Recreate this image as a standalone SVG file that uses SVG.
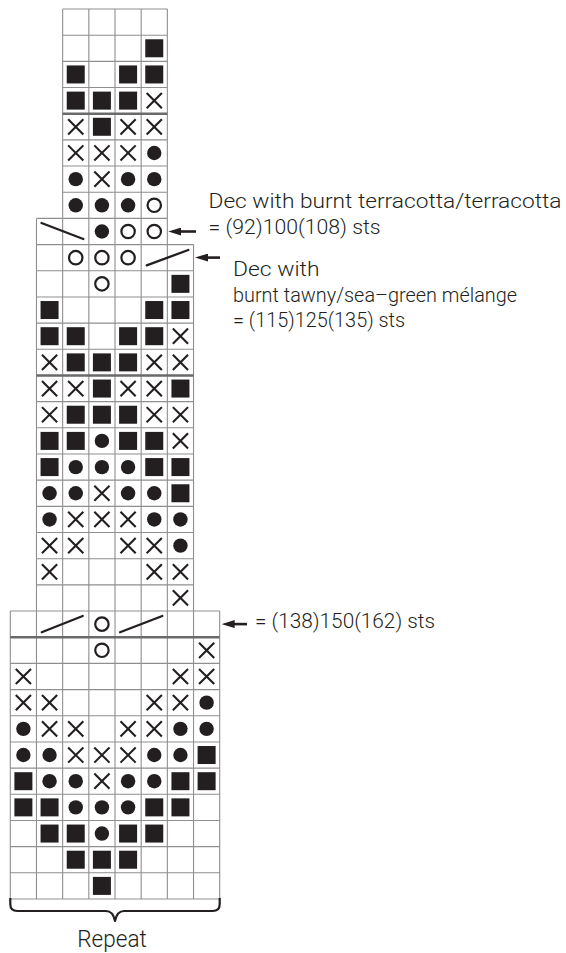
<svg xmlns="http://www.w3.org/2000/svg" width="566" height="953" viewBox="0 0 566 953">
<style>
  .grid{fill:none;stroke:#8f8f8f;stroke-width:1.1}
  .thick{fill:none;stroke:#6a6a6a;stroke-width:2.6}
  .dec{fill:none;stroke:#231f20;stroke-width:2.3;stroke-linecap:round}
  .arrow{fill:none;stroke:#231f20;stroke-width:2.6}
  .lbl{font-family:Roboto,"Liberation Sans",sans-serif;font-weight:300;font-size:21px;fill:#231f20}
  .rep{font-size:23px}
  .brace{fill:none;stroke:#231f20;stroke-width:2.2;stroke-linejoin:round}
</style>
<defs>
  <rect id="sq" x="-9" y="-9" width="18" height="18" fill="#231f20"/>
  <circle id="dot" r="7.2" fill="#231f20"/>
  <circle id="ring" r="6.7" fill="none" stroke="#231f20" stroke-width="2.2"/>
  <path id="x" d="M-7.6,-7.6L7.6,7.6M7.6,-7.6L-7.6,7.6" fill="none" stroke="#231f20" stroke-width="2.1"/>
  <marker id="head" viewBox="0 0 13 8" refX="5" refY="4" markerWidth="13" markerHeight="8" markerUnits="userSpaceOnUse" orient="auto">
    <path d="M0,0L13,4L0,8z" fill="#231f20"/>
  </marker>
</defs>

<g id="chart-grid">
  <path class="grid" d="
    M62.65,9H167.35 M62.65,35.18H167.35 M62.65,61.35H167.35 M62.65,87.53H167.35 M62.65,139.88H167.35 M62.65,166.06H167.35 M62.65,192.23H167.35
    M36.48,218.41H167.35
    M36.48,244.58H193.53 M36.48,270.76H193.53 M36.48,296.94H193.53 M36.48,323.11H193.53 M36.48,349.29H193.53 M36.48,401.64H193.53 M36.48,427.82H193.53 M36.48,453.99H193.53 M36.48,480.17H193.53 M36.48,506.34H193.53 M36.48,532.52H193.53 M36.48,558.70H193.53 M36.48,584.87H193.53
    M10.3,611.05H219.7 M10.3,663.40H219.7 M10.3,689.58H219.7 M10.3,715.75H219.7 M10.3,741.93H219.7 M10.3,768.10H219.7 M10.3,794.28H219.7 M10.3,820.46H219.7 M10.3,846.63H219.7 M10.3,872.81H219.7 M10.3,898.98H219.7
    M10.3,611.05V898.98 M36.48,218.41V898.98 M62.65,9V898.98 M88.83,9V898.98 M115,9V898.98 M141.18,9V898.98 M167.35,9V898.98 M193.53,244.58V898.98 M219.7,611.05V898.98"/>
  <path class="thick" d="M62.65,113.7H167.35 M36.48,375.46H193.53 M10.3,637.22H219.7"/>
</g>

<g id="top-section">
  <use href="#sq" x="154.26" y="48.27"/>
  <use href="#sq" x="75.74" y="74.44"/><use href="#sq" x="128.09" y="74.44"/><use href="#sq" x="154.26" y="74.44"/>
  <use href="#sq" x="75.74" y="100.62"/><use href="#sq" x="101.91" y="100.62"/><use href="#sq" x="128.09" y="100.62"/><use href="#x" x="154.26" y="100.62"/>
  <use href="#x" x="75.74" y="126.79"/><use href="#sq" x="101.91" y="126.79"/><use href="#x" x="128.09" y="126.79"/><use href="#x" x="154.26" y="126.79"/>
  <use href="#x" x="75.74" y="152.97"/><use href="#x" x="101.91" y="152.97"/><use href="#x" x="128.09" y="152.97"/><use href="#dot" x="154.26" y="152.97"/>
  <use href="#dot" x="75.74" y="179.15"/><use href="#x" x="101.91" y="179.15"/><use href="#dot" x="128.09" y="179.15"/><use href="#dot" x="154.26" y="179.15"/>
  <use href="#dot" x="75.74" y="205.32"/><use href="#dot" x="101.91" y="205.32"/><use href="#dot" x="128.09" y="205.32"/><use href="#ring" x="154.26" y="205.32"/>
</g>

<g id="middle-section">
  <path class="dec" d="M41.5,223L83.3,239"/>
  <use href="#dot" x="101.91" y="231.5"/><use href="#ring" x="128.09" y="231.5"/><use href="#ring" x="154.26" y="231.5"/>
  <use href="#ring" x="75.74" y="257.67"/><use href="#ring" x="101.91" y="257.67"/><use href="#ring" x="128.09" y="257.67"/>
  <path class="dec" d="M146.7,265.3L188.3,250"/>
  <use href="#ring" x="101.91" y="283.85"/><use href="#sq" x="180.44" y="283.85"/>
  <use href="#sq" x="49.56" y="310.03"/><use href="#sq" x="154.26" y="310.03"/><use href="#sq" x="180.44" y="310.03"/>
  <use href="#sq" x="49.56" y="336.2"/><use href="#sq" x="75.74" y="336.2"/><use href="#sq" x="128.09" y="336.2"/><use href="#sq" x="154.26" y="336.2"/><use href="#x" x="180.44" y="336.2"/>
  <use href="#x" x="49.56" y="362.38"/><use href="#sq" x="75.74" y="362.38"/><use href="#sq" x="101.91" y="362.38"/><use href="#sq" x="128.09" y="362.38"/><use href="#x" x="154.26" y="362.38"/><use href="#x" x="180.44" y="362.38"/>
  <use href="#x" x="49.56" y="388.55"/><use href="#x" x="75.74" y="388.55"/><use href="#sq" x="101.91" y="388.55"/><use href="#x" x="128.09" y="388.55"/><use href="#x" x="154.26" y="388.55"/><use href="#sq" x="180.44" y="388.55"/>
  <use href="#x" x="49.56" y="414.73"/><use href="#sq" x="75.74" y="414.73"/><use href="#sq" x="101.91" y="414.73"/><use href="#sq" x="128.09" y="414.73"/><use href="#x" x="154.26" y="414.73"/><use href="#x" x="180.44" y="414.73"/>
  <use href="#sq" x="49.56" y="440.91"/><use href="#sq" x="75.74" y="440.91"/><use href="#dot" x="101.91" y="440.91"/><use href="#sq" x="128.09" y="440.91"/><use href="#sq" x="154.26" y="440.91"/><use href="#x" x="180.44" y="440.91"/>
  <use href="#sq" x="49.56" y="467.08"/><use href="#dot" x="75.74" y="467.08"/><use href="#dot" x="101.91" y="467.08"/><use href="#dot" x="128.09" y="467.08"/><use href="#sq" x="154.26" y="467.08"/><use href="#sq" x="180.44" y="467.08"/>
  <use href="#dot" x="49.56" y="493.26"/><use href="#dot" x="75.74" y="493.26"/><use href="#x" x="101.91" y="493.26"/><use href="#dot" x="128.09" y="493.26"/><use href="#dot" x="154.26" y="493.26"/><use href="#sq" x="180.44" y="493.26"/>
  <use href="#dot" x="49.56" y="519.43"/><use href="#x" x="75.74" y="519.43"/><use href="#x" x="101.91" y="519.43"/><use href="#x" x="128.09" y="519.43"/><use href="#dot" x="154.26" y="519.43"/><use href="#dot" x="180.44" y="519.43"/>
  <use href="#x" x="49.56" y="545.61"/><use href="#x" x="75.74" y="545.61"/><use href="#x" x="128.09" y="545.61"/><use href="#x" x="154.26" y="545.61"/><use href="#dot" x="180.44" y="545.61"/>
  <use href="#x" x="49.56" y="571.79"/><use href="#x" x="154.26" y="571.79"/><use href="#x" x="180.44" y="571.79"/>
  <use href="#x" x="180.44" y="597.96"/>
</g>

<g id="bottom-section">
  <path class="dec" d="M41.7,632.2L82.7,616M120,632.2L162.3,616"/>
  <use href="#ring" x="101.91" y="624.14"/>
  <use href="#ring" x="101.91" y="650.31"/><use href="#x" x="206.61" y="650.31"/>
  <use href="#x" x="23.39" y="676.49"/><use href="#x" x="180.44" y="676.49"/><use href="#x" x="206.61" y="676.49"/>
  <use href="#x" x="23.39" y="702.67"/><use href="#x" x="49.56" y="702.67"/><use href="#x" x="154.26" y="702.67"/><use href="#x" x="180.44" y="702.67"/><use href="#dot" x="206.61" y="702.67"/>
  <use href="#dot" x="23.39" y="728.84"/><use href="#x" x="49.56" y="728.84"/><use href="#x" x="75.74" y="728.84"/><use href="#x" x="128.09" y="728.84"/><use href="#x" x="154.26" y="728.84"/><use href="#dot" x="180.44" y="728.84"/><use href="#dot" x="206.61" y="728.84"/>
  <use href="#dot" x="23.39" y="755.02"/><use href="#dot" x="49.56" y="755.02"/><use href="#x" x="75.74" y="755.02"/><use href="#x" x="101.91" y="755.02"/><use href="#x" x="128.09" y="755.02"/><use href="#dot" x="154.26" y="755.02"/><use href="#dot" x="180.44" y="755.02"/><use href="#sq" x="206.61" y="755.02"/>
  <use href="#sq" x="23.39" y="781.19"/><use href="#dot" x="49.56" y="781.19"/><use href="#dot" x="75.74" y="781.19"/><use href="#x" x="101.91" y="781.19"/><use href="#dot" x="128.09" y="781.19"/><use href="#dot" x="154.26" y="781.19"/><use href="#sq" x="180.44" y="781.19"/><use href="#sq" x="206.61" y="781.19"/>
  <use href="#sq" x="23.39" y="807.37"/><use href="#sq" x="49.56" y="807.37"/><use href="#dot" x="75.74" y="807.37"/><use href="#dot" x="101.91" y="807.37"/><use href="#dot" x="128.09" y="807.37"/><use href="#sq" x="154.26" y="807.37"/><use href="#sq" x="180.44" y="807.37"/>
  <use href="#sq" x="49.56" y="833.55"/><use href="#sq" x="75.74" y="833.55"/><use href="#dot" x="101.91" y="833.55"/><use href="#sq" x="128.09" y="833.55"/><use href="#sq" x="154.26" y="833.55"/>
  <use href="#sq" x="75.74" y="859.72"/><use href="#sq" x="101.91" y="859.72"/><use href="#sq" x="128.09" y="859.72"/>
  <use href="#sq" x="101.91" y="885.9"/>
</g>

<g id="connectors">
  <path class="arrow" marker-end="url(#head)" d="M196,231.5H176.3"/>
  <path class="arrow" marker-end="url(#head)" d="M220,257.6H203"/>
  <path class="arrow" marker-end="url(#head)" d="M247,624.1H229.7"/>
</g>

<g id="label-dec1">
  <text class="lbl" x="208.5" y="207.5" textLength="353" lengthAdjust="spacingAndGlyphs">Dec with burnt terracotta/terracotta</text>
  <text class="lbl" x="208.5" y="233.5" textLength="172" lengthAdjust="spacingAndGlyphs">= (92)100(108) sts</text>
</g>
<g id="label-dec2">
  <text class="lbl" x="233" y="275.5" textLength="86.5" lengthAdjust="spacingAndGlyphs">Dec with</text>
  <text class="lbl" x="233" y="301.5" textLength="284" lengthAdjust="spacingAndGlyphs">burnt tawny/sea–green mélange</text>
  <text class="lbl" x="233" y="327" textLength="172" lengthAdjust="spacingAndGlyphs">= (115)125(135) sts</text>
</g>
<g id="label-dec3">
  <text class="lbl" x="255" y="628.3" textLength="180" lengthAdjust="spacingAndGlyphs">= (138)150(162) sts</text>
</g>
<g id="repeat">
  <path class="brace" d="M10.3,898V904Q10.3,911 17.3,911H106Q113,911 115,921Q117,911 124,911H212.7Q219.7,911 219.7,904V898"/>
  <text class="lbl rep" x="77.3" y="946.7" textLength="69.4" lengthAdjust="spacingAndGlyphs">Repeat</text>
</g>
</svg>
